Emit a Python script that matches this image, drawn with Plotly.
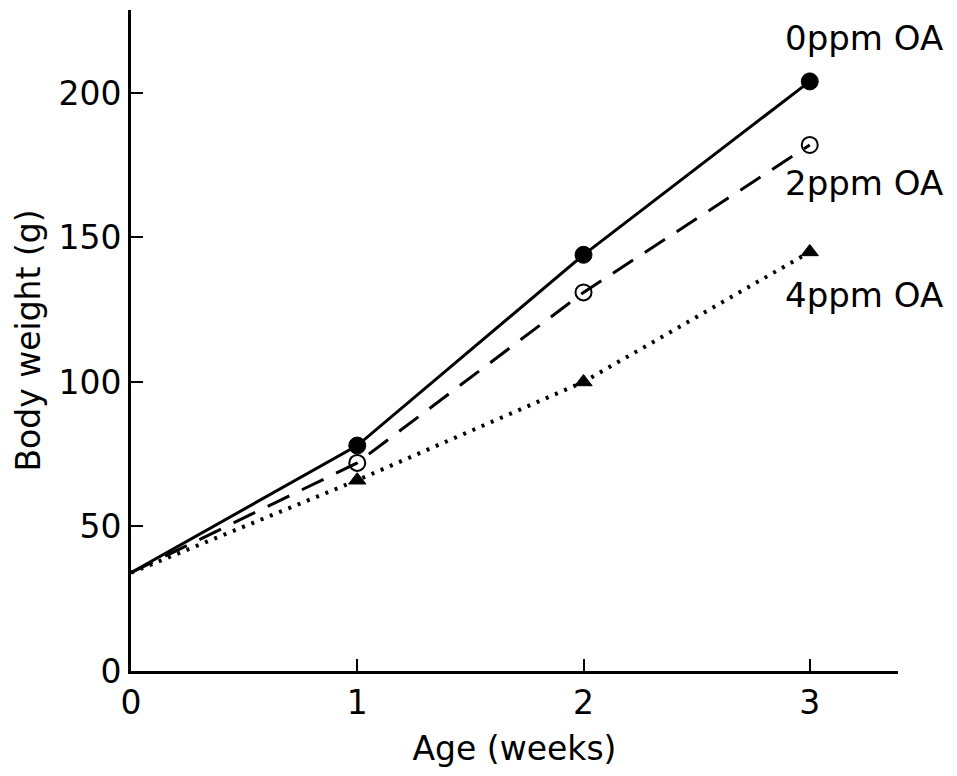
import plotly.graph_objects as go

weeks = [0, 1, 2, 3]
oa0 = [34, 78, 144, 204]
oa2 = [34, 72, 131, 182]
oa4 = [34, 66, 100, 145]
labels = ["0ppm OA", "2ppm OA", "4ppm OA"]
label_y = [219, 169, 130]

FONT = "DejaVu Sans, Liberation Sans, Arial, sans-serif"

fig = go.Figure()
fig.add_trace(go.Scatter(x=weeks, y=oa0, mode="lines+markers",
                         line=dict(color="black", width=3),
                         marker=dict(symbol="circle", size=[0, 17, 17, 17], color="#000000",
                                     opacity=1, line=dict(width=1, color="#000000"))))
fig.add_trace(go.Scatter(x=weeks, y=oa2, mode="lines+markers",
                         line=dict(color="black", width=3, dash="24px,14px"),
                         marker=dict(symbol="circle-open", size=[0, 16, 16, 16], color="#000000",
                                     opacity=1, line=dict(width=2, color="#000000"))))
fig.add_trace(go.Scatter(x=weeks, y=oa4, mode="lines+markers",
                         line=dict(color="black", width=4, dash="3px,7px"),
                         marker=dict(symbol="triangle-up", size=[0, 15, 15, 15], color="#000000",
                                     opacity=1, line=dict(width=1, color="#000000"))))

for t, yy in zip(labels, label_y):
    fig.add_annotation(x=3.24, y=yy, text=t, showarrow=False, xref="x", yref="y",
                       font=dict(family=FONT, size=34, color="black"))

fig.update_layout(
    width=957, height=776,
    margin=dict(l=131, r=59, t=10, b=105),
    plot_bgcolor="white", paper_bgcolor="white",
    showlegend=False,
    font=dict(family=FONT, size=33, color="black"),
)
fig.update_xaxes(range=[0, 3.39], tickvals=[0, 1, 2, 3], ticks="inside", ticklen=12,
                 tickwidth=2, tickcolor="black", showline=True, linewidth=3, linecolor="black",
                 showgrid=False, zeroline=False,
                 title=dict(text="Age (weeks)", font=dict(size=33), standoff=17),
                 tickfont=dict(size=33))
fig.update_yaxes(range=[0, 228.7], tickvals=[0, 50, 100, 150, 200], ticks="inside", ticklen=12,
                 tickwidth=2, tickcolor="black", showline=True, linewidth=3, linecolor="black",
                 showgrid=False, zeroline=False,
                 title=dict(text="Body weight (g)", font=dict(size=33), standoff=8),
                 tickfont=dict(size=33))

fig.write_html("out.html")
